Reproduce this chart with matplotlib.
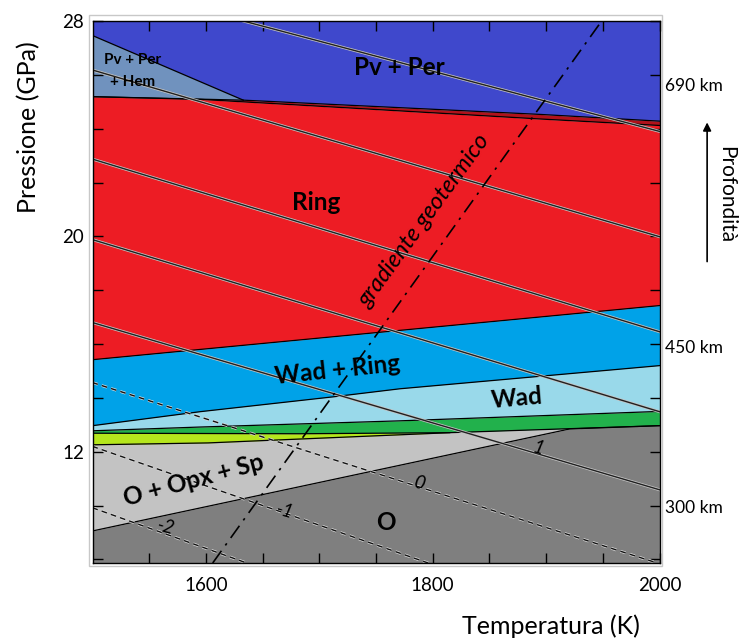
import numpy as np
import matplotlib
matplotlib.use("Agg")
import matplotlib.pyplot as plt
import matplotlib.patheffects as pe
from matplotlib.patches import Rectangle

plt.rcParams['font.family'] = ['Lato', 'DejaVu Sans']

# ---------------- data (T in K, P in GPa) ----------------
T_MIN, T_MAX = 1500, 2000
P_MIN, P_MAX = 7.87, 28.0

hem_T = [1500, 1633, 1500]
hem_P = [27.46, 25.06, 25.19]

pvper_bottom_T = [1500, 1633, 1895, 2000]
pvper_bottom_P = [25.19, 25.06, 24.53, 24.28]
darkred_bottom_T = [1500, 1595, 1895, 2000]
darkred_bottom_P = [25.19, 25.09, 24.36, 24.12]
ring_bottom_T = [1500, 2000]
ring_bottom_P = [15.42, 17.43]
wadring_bottom_T = [1500, 1595, 1712, 1771, 2000]
wadring_bottom_P = [12.97, 13.49, 14.04, 14.34, 15.20]
wad_bottom_T = [1500, 1595, 1771, 2000]
wad_bottom_P = [12.78, 12.92, 13.15, 13.50]
green_bottom_T = [1500, 1683, 1815, 2000]
green_bottom_P = [12.69, 12.67, 12.71, 12.97]
lime_bottom_T = [1500, 1602, 1815]
lime_bottom_P = [12.26, 12.33, 12.71]
olivine_top_T = [1500, 1921, 2000]
olivine_top_P = [9.06, 12.85, 12.97]

# solid isentropes
solid_T = [[1633, 2000], [1500, 2000], [1500, 2000], [1500, 2000], [1500, 2000]]
solid_P = [[28.0, 23.90], [26.18, 19.99], [22.87, 16.46], [19.88, 13.49], [16.80, 10.59]]
# dashed isentropes
dashed_T = [[1500, 1998], [1500, 1796], [1500, 1636]]
dashed_P = [[14.57, 7.87], [12.20, 7.87], [9.92, 7.87]]

isentrope_labels = ['1', '0', '-1', '-2']
isentrope_label_T = [1893, 1788, 1670, 1565]
isentrope_label_P = [12.15, 10.85, 9.81, 9.21]

geotherm_T = [1606, 1949]
geotherm_P = [7.87, 28.0]

phase_labels = ['Pv + Per', 'Ring', 'Wad + Ring', 'Wad', 'O + Opx + Sp', 'O']
phase_label_T = [1771, 1697, 1716, 1874, 1589, 1759]
phase_label_P = [26.28, 21.26, 15.05, 14.0, 10.96, 9.36]
phase_label_rot = [0, 0, 6, 5, 15, 0]

depth_labels = ['690 km', '450 km', '300 km']
depth_P = [25.57, 15.87, 9.92]

x_major = [1600, 1800, 2000]
y_major = [12, 20, 28]

# ---------------- colours ----------------
C_PV = '#3f48cc'
C_HEM = '#7092be'
C_DRED = '#b0121b'
C_RED = '#ed1c24'
C_WR = '#00a2e8'
C_WAD = '#99d9ea'
C_GREEN = '#22b14c'
C_LIME = '#b5e61d'
C_LGRAY = '#c3c3c3'
C_GRAY = '#7f7f7f'

W, H = 742, 641
fig = plt.figure(figsize=(W / 100, H / 100), dpi=100)
ax = fig.add_axes([92.5 / W, 1 - 563 / H, 567 / W, 542 / H])
ax.set_xlim(T_MIN, T_MAX)
ax.set_ylim(P_MIN, P_MAX)

Tg = np.linspace(T_MIN, T_MAX, 1001)
def b(T, P):
    return np.interp(Tg, T, P)

pv_b = b(pvper_bottom_T, pvper_bottom_P)
dr_b = b(darkred_bottom_T, darkred_bottom_P)
ring_b = b(ring_bottom_T, ring_bottom_P)
wr_b = b(wadring_bottom_T, wadring_bottom_P)
wad_b = b(wad_bottom_T, wad_bottom_P)
gr_b = b(green_bottom_T, green_bottom_P)
ol_b = b(olivine_top_T, olivine_top_P)

kw = dict(lw=0, antialiased=True)
ax.fill_between(Tg, pv_b, P_MAX, color=C_PV, **kw)
ax.fill(hem_T, hem_P, color=C_HEM, lw=0)
ax.fill_between(Tg, dr_b, pv_b, color=C_DRED, **kw)
ax.fill_between(Tg, ring_b, dr_b, color=C_RED, **kw)
ax.fill_between(Tg, wr_b, ring_b, color=C_WR, **kw)
ax.fill_between(Tg, wad_b, wr_b, color=C_WAD, **kw)
ax.fill_between(Tg, gr_b, wad_b, color=C_GREEN, **kw)
ax.fill_between(Tg, ol_b, gr_b, color=C_LGRAY, **kw)
lm = Tg <= lime_bottom_T[-1]
ax.fill_between(Tg[lm], b(lime_bottom_T, lime_bottom_P)[lm], gr_b[lm], color=C_LIME, **kw)
ax.fill_between(Tg, P_MIN, ol_b, color=C_GRAY, **kw)

# boundary lines
blw = 0.9
for T, P in [(pvper_bottom_T, pvper_bottom_P), (darkred_bottom_T, darkred_bottom_P),
             (ring_bottom_T, ring_bottom_P), (wadring_bottom_T, wadring_bottom_P),
             (wad_bottom_T, wad_bottom_P), (green_bottom_T, green_bottom_P),
             (lime_bottom_T, lime_bottom_P), (olivine_top_T, olivine_top_P)]:
    ax.plot(T, P, color='black', lw=blw, zorder=3)
ax.plot(hem_T[:2], hem_P[:2], color='black', lw=blw, zorder=3)

halo = [pe.withStroke(linewidth=2.1, foreground='#c4c4c4')]
for T, P in zip(solid_T, solid_P):
    ax.plot(T, P, color='#202020', lw=1.0, zorder=4, path_effects=halo)
for T, P in zip(dashed_T, dashed_P):
    ax.plot(T, P, color='#111111', lw=1.0, ls=(0, (4, 3)), zorder=4,
            path_effects=[pe.withStroke(linewidth=2.0, foreground='#dedede')])

ax.plot(geotherm_T, geotherm_P, color='black', lw=1.2, ls=(0, (9, 4, 1.5, 4)), zorder=5)

for s, T, P in zip(isentrope_labels, isentrope_label_T, isentrope_label_P):
    ax.text(T, P, s, fontsize=13.5, style='italic', ha='center', va='center',
            rotation=-16, zorder=6)

for s, T, P, r in zip(phase_labels, phase_label_T, phase_label_P, phase_label_rot):
    ax.text(T, P, s, fontsize=17.5, fontweight='bold', ha='center', va='center',
            rotation=r, rotation_mode='anchor', zorder=6)

ax.text(1535.7, 26.57, 'Pv + Per', fontsize=11, fontweight='bold', ha='center', va='center', zorder=6)
ax.text(1535, 25.75, '+ Hem', fontsize=11, fontweight='bold', ha='center', va='center', zorder=6)

ax.text(1793, 20.6, 'gradiente geotermico', fontsize=17, style='italic',
        ha='center', va='center', rotation=54, rotation_mode='anchor', zorder=6)

# right side depth labels
for s, P in zip(depth_labels, depth_P):
    ax.text(1.010, (P - P_MIN) / (P_MAX - P_MIN), s, transform=ax.transAxes,
            fontsize=12.5, ha='left', va='center')

ax.annotate('', xy=(1.084, 0.818), xytext=(1.084, 0.551), xycoords='axes fraction',
            arrowprops=dict(arrowstyle='-|>', color='black', lw=1.2, mutation_scale=12))
ax.text(1.118, 0.68, 'Profondità', transform=ax.transAxes, rotation=270,
        fontsize=15, ha='center', va='center')

# ticks
ax.set_xticks(x_major)
ax.set_xticks([t for t in range(1550, 2000, 50) if t not in x_major], minor=True)
ax.set_yticks(y_major)
ax.set_yticks([p for p in range(8, 28, 2) if p not in y_major], minor=True)
ax.tick_params(which='both', direction='in', top=True, right=True, length=7, width=1,
               color='black')
ax.tick_params(axis='x', labelsize=13.5, pad=10)
ax.tick_params(axis='y', labelsize=13.5, pad=6)
for sp in ax.spines.values():
    sp.set_linewidth(1.0)
    sp.set_zorder(10)

fig.text(29 / W, 1 - 127 / H, 'Pressione (GPa)', rotation=90, fontsize=18,
         ha='center', va='center')
fig.text(551 / W, 1 - 626 / H, 'Temperatura (K)', fontsize=18, ha='center', va='center')

# outer light frame
fig.add_artist(Rectangle((89 / W, 1 - 566 / H), (662 - 89) / W, (566 - 15) / H,
                         transform=fig.transFigure, fill=False, ec='#c8c8c8', lw=1.0))

fig.savefig('out.png', dpi=100)
